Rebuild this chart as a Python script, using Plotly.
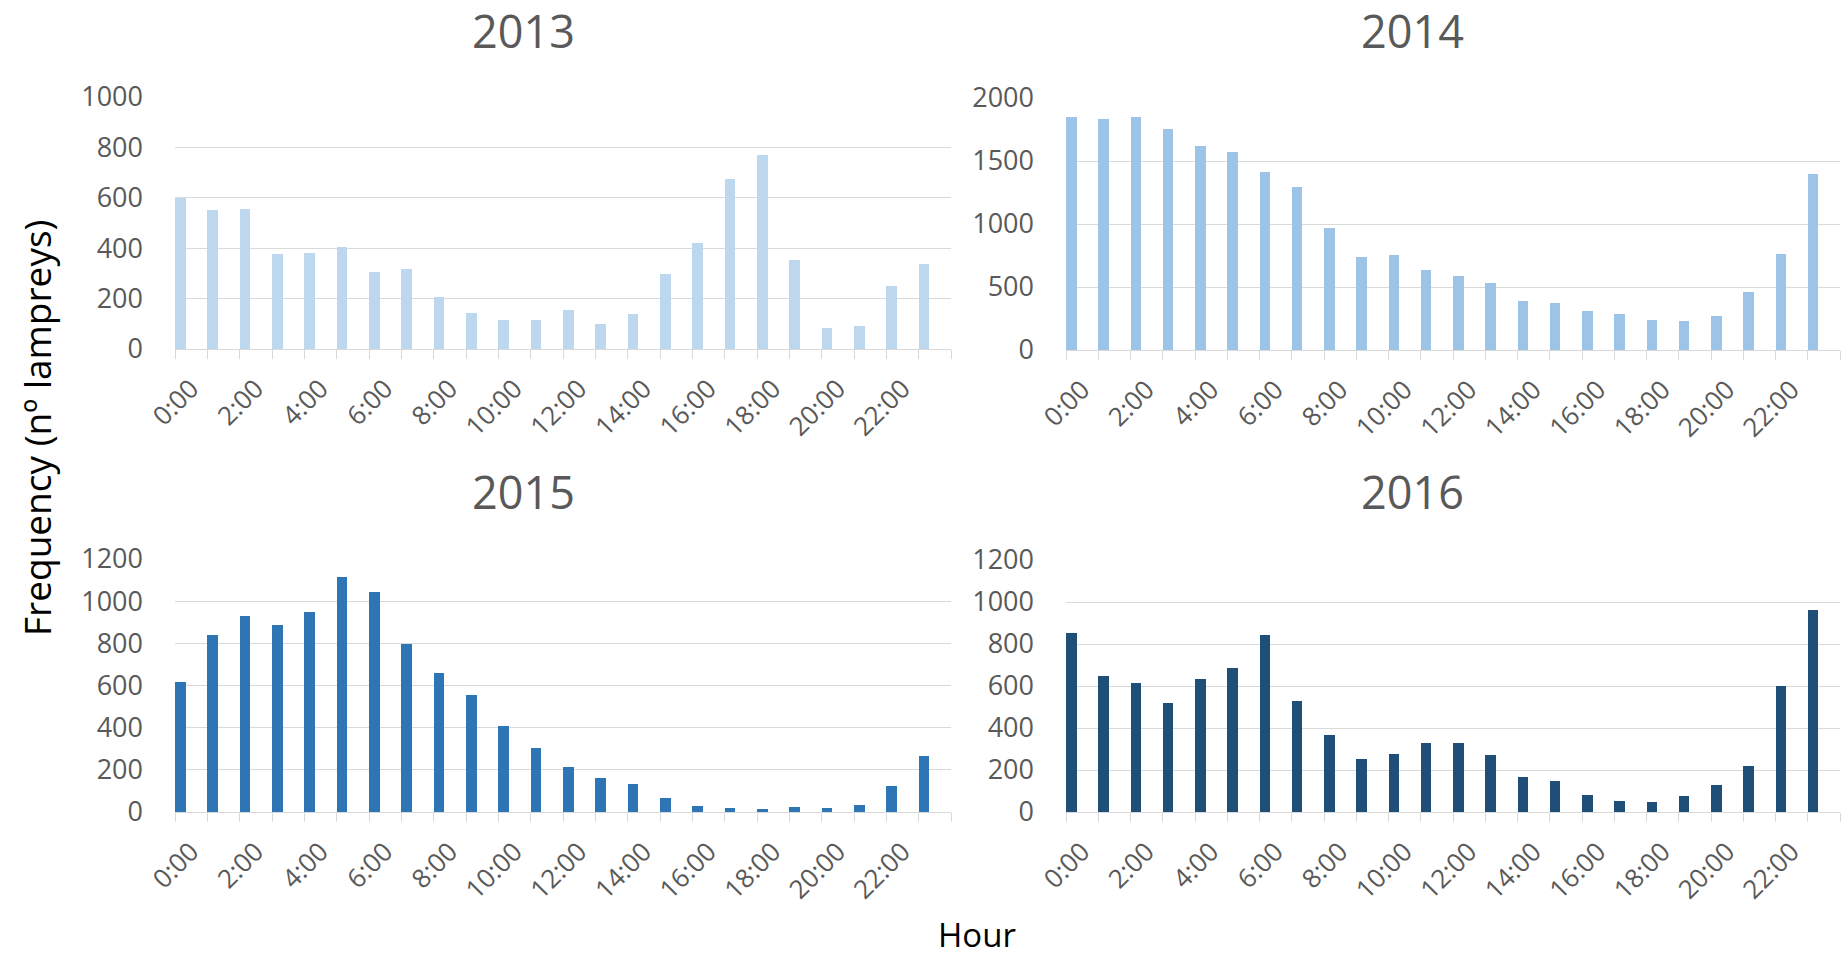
import plotly.graph_objects as go

hours = [f"{h}:00" for h in range(24)]
tick_text = [h if i % 2 == 0 else "" for i, h in enumerate(hours)]

freq_2013 = [600, 550, 557, 378, 382, 404, 304, 316, 208, 143, 117, 117,
             153, 100, 137, 299, 422, 675, 770, 352, 85, 92, 251, 336]
freq_2014 = [1849, 1836, 1852, 1756, 1621, 1571, 1409, 1295, 970, 736, 755, 633,
             591, 530, 392, 374, 310, 283, 238, 228, 268, 458, 760, 1399]
freq_2015 = [617, 841, 932, 889, 947, 1116, 1044, 797, 658, 555, 408, 303,
             212, 161, 134, 67, 30, 21, 16, 22, 18, 33, 123, 265]
freq_2016 = [854, 649, 616, 520, 635, 686, 844, 527, 369, 254, 276, 330,
             330, 273, 168, 147, 81, 54, 49, 75, 129, 220, 600, 964]

years = ["2013", "2014", "2015", "2016"]
series = [freq_2013, freq_2014, freq_2015, freq_2016]
colors = ["#BDD7EE", "#9DC3E6", "#2E75B6", "#1F4E79"]
y_max = [1000, 2000, 1200, 1200]
y_dtick = [200, 500, 200, 200]

W, H = 1844, 956
# panel boxes in pixels: (left, right, top, bottom)
boxes = [(175, 951, 97, 349), (1066, 1840, 98, 350),
         (175, 951, 559, 812), (1066, 1840, 560, 812)]
title_pos = [(523, 30), (1412, 30), (523, 492), (1412, 492)]

GRID = "#D9D9D9"
TXT = "#595959"
FONT = "Open Sans"

fig = go.Figure()
annotations = []
for k in range(4):
    xa = "x" if k == 0 else f"x{k+1}"
    ya = "y" if k == 0 else f"y{k+1}"
    fig.add_trace(go.Bar(
        x=hours, y=series[k], xaxis=xa, yaxis=ya,
        marker=dict(color=colors[k], line=dict(width=0)),
        offset=-0.5, width=0.33, showlegend=False,
    ))
    l, r, t, b = boxes[k]
    xkey = "xaxis" if k == 0 else f"xaxis{k+1}"
    ykey = "yaxis" if k == 0 else f"yaxis{k+1}"
    fig.update_layout(**{
        xkey: dict(
            domain=[l / W, r / W], anchor=ya, type="category",
            categoryorder="array", categoryarray=hours,
            tickvals=hours, ticktext=tick_text, tickson="boundaries",
            ticks="outside", ticklen=9, tickcolor=GRID, tickwidth=1.3,
            showline=True, linecolor=GRID, linewidth=1.3,
            tickangle=-45, tickfont=dict(family=FONT, size=26, color=TXT),
            ticklabelstandoff=13,
            showgrid=False, range=[-0.5, 23.5], automargin=False,
        ),
        ykey: dict(
            domain=[1 - b / H, 1 - t / H], anchor=xa,
            range=[0, y_max[k]], dtick=y_dtick[k], tick0=0,
            showgrid=True, gridcolor=GRID, gridwidth=1.3,
            zeroline=False, showline=False, ticks="",
            ticklabelstandoff=31, automargin=False,
            tickfont=dict(family=FONT, size=27, color=TXT),
        ),
    })
    tx, ty = title_pos[k]
    annotations.append(dict(
        text=years[k], x=tx / W, y=1 - ty / H, xref="paper", yref="paper",
        xanchor="center", yanchor="middle", showarrow=False,
        font=dict(family=FONT, size=45, color=TXT),
    ))

annotations.append(dict(
    text="Frequency (nº lampreys)", x=36 / W, y=1 - 428 / H,
    xref="paper", yref="paper", xanchor="center", yanchor="middle",
    textangle=-90, showarrow=False,
    font=dict(family=FONT, size=37, color="#000000"),
))
annotations.append(dict(
    text="Hour", x=977 / W, y=1 - 934 / H,
    xref="paper", yref="paper", xanchor="center", yanchor="middle",
    showarrow=False, font=dict(family=FONT, size=33, color="#000000"),
))

fig.update_layout(
    width=W, height=H, margin=dict(l=0, r=0, t=0, b=0, autoexpand=False),
    paper_bgcolor="white", plot_bgcolor="white",
    annotations=annotations, bargap=0,
)

fig.write_html(
    "out.html",
    config={"displayModeBar": False},
    post_script="document.body.style.margin='0';document.body.style.overflow='hidden';",
)
